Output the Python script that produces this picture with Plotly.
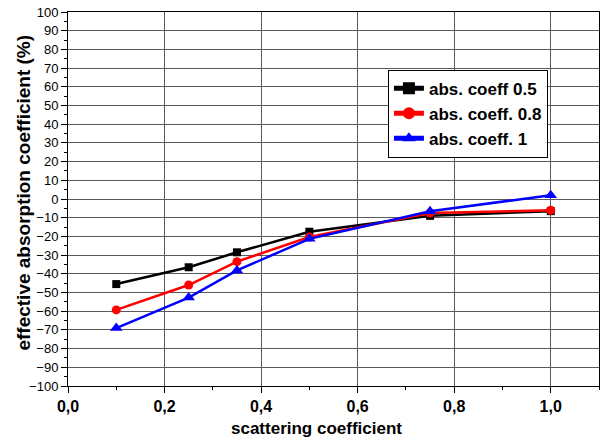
import plotly.graph_objects as go

# scattering coefficient values (x) and effective absorption coefficient (%) per series
scattering = [0.1, 0.25, 0.35, 0.5, 0.75, 1.0]
abs_05 = [-45.5, -36.5, -28.5, -17.5, -9.0, -6.5]
abs_08 = [-59.3, -46.0, -33.5, -20.3, -7.5, -6.0]
abs_10 = [-69.0, -52.7, -38.2, -21.3, -6.5, 2.0]

series_names = ["abs. coeff 0.5", "abs. coeff. 0.8", "abs. coeff. 1"]
x_tick_vals = [0.0, 0.2, 0.4, 0.6, 0.8, 1.0]
x_tick_text = ["0,0", "0,2", "0,4", "0,6", "0,8", "1,0"]
y_tick_vals = list(range(-100, 101, 10))

FONT = "Liberation Sans, Arial, sans-serif"

fig = go.Figure()
styles = [
    (abs_05, "#000000", "square", 8),
    (abs_08, "#ff0000", "circle", 9),
    (abs_10, "#0000ff", "triangle-up", 11),
]
for name, (vals, color, symbol, size) in zip(series_names, styles):
    fig.add_trace(go.Scatter(
        x=scattering, y=vals, name=name, mode="lines+markers",
        line=dict(color=color, width=2.5),
        marker=dict(color=color, symbol=symbol, size=size),
    ))

axis_common = dict(
    showline=True, linecolor="#000000", linewidth=1, mirror=True,
    showgrid=True, gridcolor="#5a5a5a", gridwidth=1,
    zeroline=False, ticks="outside", ticklen=6, tickcolor="#000000",
)

fig.update_xaxes(
    range=[0, 1.1], tickvals=x_tick_vals, ticktext=x_tick_text,
    tickfont=dict(family=FONT, size=16, color="#000000", weight="bold"),
    minor=dict(dtick=0.1, tick0=0, ticks="outside", ticklen=3, tickcolor="#000000", showgrid=False),
    **axis_common,
)
fig.update_yaxes(
    range=[-100, 100], tickvals=y_tick_vals,
    tickfont=dict(family=FONT, size=13, color="#000000"),
    minor=dict(dtick=5, tick0=0, ticks="outside", ticklen=3, tickcolor="#000000", showgrid=False),
    **axis_common,
)

fig.add_annotation(
    text="scattering coefficient", xref="paper", yref="paper",
    x=0.468, y=-0.113, xanchor="center", yanchor="middle", showarrow=False,
    font=dict(family=FONT, size=17, color="#000000", weight="bold"),
)
fig.add_annotation(
    text="effective absorption coefficient (%)", xref="paper", yref="paper",
    x=-0.083, y=0.517, xanchor="center", yanchor="middle", showarrow=False,
    textangle=-90,
    font=dict(family=FONT, size=19, color="#000000", weight="bold"),
)

fig.update_layout(
    width=602, height=437,
    margin=dict(l=68, r=3, t=12, b=51, pad=0),
    paper_bgcolor="#ffffff", plot_bgcolor="#ffffff",
    showlegend=True,
    legend=dict(
        x=0.6025, y=0.846, xanchor="left", yanchor="top",
        bgcolor="#ffffff", bordercolor="#000000", borderwidth=1,
        font=dict(family=FONT, size=17, color="#000000", weight="bold"),
        tracegroupgap=0, itemsizing="constant",
    ),
)

fig.write_html("out.html")
